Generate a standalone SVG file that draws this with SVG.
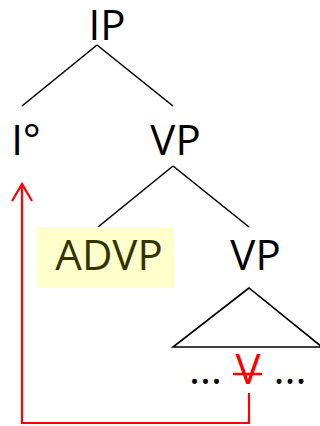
<svg xmlns="http://www.w3.org/2000/svg" width="320" height="426" viewBox="0 0 320 426">
<style>
.t{font-family:"Open Sans","Liberation Sans",sans-serif;font-size:42px;fill:#000;text-anchor:middle}
.e{stroke:#000;stroke-width:1.6;fill:none}
.r{stroke:#ff0000;stroke-width:2.2;fill:none}
</style>
<rect width="320" height="426" fill="#fff"/>
<g id="connectors">
<line class="e" x1="97" y1="45" x2="22" y2="106"/>
<line class="e" x1="97" y1="45" x2="173" y2="106"/>
<line class="e" x1="173" y1="166" x2="98" y2="227"/>
<line class="e" x1="173" y1="166" x2="249" y2="227"/>
<polygon class="e" points="249,288 173,347 322,347"/>
<polyline class="r" points="249,393 249,423 22,423 22,184"/>
<polyline class="r" points="12,201 22,184 32,201"/>
</g>
<g id="IP"><text class="t" x="107" y="40">IP</text></g>
<g id="I0"><text class="t" x="26" y="155">I°</text></g>
<g id="VP1"><text class="t" x="175.5" y="155">VP</text></g>
<g id="ADVP"><rect x="37" y="227" width="137" height="61" fill="#ffffcc"/><text class="t" x="109" y="270" style="fill:#333300">ADVP</text></g>
<g id="VP2"><text class="t" x="255.5" y="270">VP</text></g>
<g id="terminals">
<text class="t" x="205.5" y="384">...</text>
<text class="t" x="248" y="384" style="fill:#ff0000">V</text>
<line class="r" x1="233" y1="374" x2="262" y2="374" style="stroke-width:2.5"/>
<text class="t" x="290" y="384">...</text>
</g>
</svg>
